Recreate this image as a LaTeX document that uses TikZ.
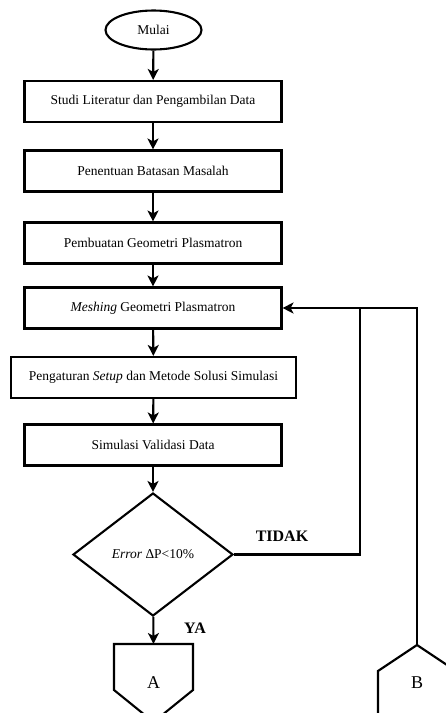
\documentclass[tikz,border=0pt]{standalone}
\usepackage{fontspec}
\setmainfont{Liberation Serif}
\usetikzlibrary{shapes.geometric,arrows.meta}
\tikzset{
  every node/.style={font=\fontsize{13.5}{15}\selectfont},
  line/.style={line width=2.1pt},
  flow/.style={line, -{Stealth[length=11pt,width=11pt,inset=3pt]}},
  procbox/.style={draw, line width=2.1pt, rectangle, minimum width=257pt, minimum height=41pt, inner sep=0pt},
  wideproc/.style={procbox, minimum width=285pt},
  termin/.style={draw, line width=2.1pt, ellipse, minimum width=96pt, minimum height=39pt, inner sep=0pt},
  decis/.style={draw, line width=2.1pt, diamond, minimum width=160pt, minimum height=123pt, aspect=1.3, inner sep=0pt},
  lbl/.style={font=\fontsize{16}{18}\selectfont\bfseries},
  conn/.style={font=\fontsize{18}{20}\selectfont}
}
\begin{document}
\begin{tikzpicture}[x=1pt,y=-1pt]
\useasboundingbox (0,0) rectangle (446,713);
\clip (0,0) rectangle (446,713);
\node[termin] (start) at (153.5,30) {Mulai};
\node[procbox] (s1) at (153,101.5) {Studi Literatur dan Pengambilan Data};
\node[procbox] (s2) at (153,171) {Penentuan Batasan Masalah};
\node[procbox] (s3) at (153,243) {Pembuatan Geometri Plasmatron};
\node[procbox] (s4) at (153,308) {\textit{Meshing} Geometri Plasmatron};
\node[wideproc] (s5) at (153.5,377.5) {Pengaturan \textit{Setup} dan Metode Solusi Simulasi};
\node[procbox] (s6) at (153,445) {Simulasi Validasi Data};
\node[decis] (dec) at (153,554.5) {\textit{Error} ΔP<10\%};
% off-page connectors
\coordinate (Atop) at (153.5,644);
\draw[line] (114,644) -- (193,644) -- (193,690) -- (153.5,722) -- (114,690) -- cycle;
\node[conn] (A) at (153.5,683) {A};
\coordinate (Btop) at (417,645);
\draw[line] (Btop) -- (456,671) -- (456,760) -- (378,760) -- (378,671) -- cycle;
\node[conn] (B) at (417,683) {B};
% flow
\draw[flow] (start) -- (s1);
\draw[flow] (s1) -- (s2);
\draw[flow] (s2) -- (s3);
\draw[flow] (s3) -- (s4);
\draw[flow] (s4) -- (s5);
\draw[flow] (s5) -- (s6);
\draw[flow] (s6) -- (dec);
\draw[flow] (dec) -- (Atop);
\coordinate (j1) at (360,308);
\draw[line] (dec.east) -| (j1);
\draw[flow] (j1) -- (s4.east);
\draw[line] (Btop) |- (j1);
\node[lbl] (tidak) at (282,536) {TIDAK};
\node[lbl] (ya) at (195,628) {YA};
\end{tikzpicture}
\end{document}
